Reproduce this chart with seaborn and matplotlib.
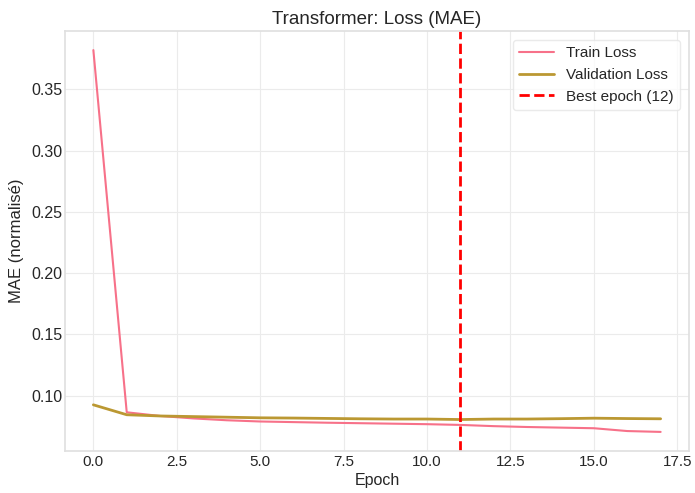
import numpy as np
import pandas as pd
import matplotlib
matplotlib.use("Agg")
import matplotlib.pyplot as plt
import seaborn as sns

epochs = list(range(18))
train_loss = [0.382, 0.0865, 0.0835, 0.0815, 0.0800, 0.0790, 0.0785, 0.0780, 0.0776, 0.0772,
              0.0768, 0.0762, 0.0752, 0.0745, 0.0740, 0.0735, 0.0712, 0.0705]
val_loss = [0.0926, 0.0845, 0.0835, 0.0830, 0.0825, 0.0820, 0.0818, 0.0815, 0.0812, 0.0810,
            0.0810, 0.0806, 0.0810, 0.0810, 0.0813, 0.0817, 0.0814, 0.0812]
best_epoch_idx = 11
best_label = "Best epoch (12)"

sns.set_theme(style="whitegrid")
plt.rcParams['font.family'] = ['Liberation Sans', 'DejaVu Sans']

df = pd.DataFrame({"Epoch": epochs, "Train Loss": train_loss, "Validation Loss": val_loss})
pal = sns.color_palette("husl", 6)

fig = plt.figure(figsize=(6.95, 4.93), dpi=100)
ax = fig.add_axes([65 / 695, 1 - 451 / 493, 624 / 695, 420 / 493])
sns.lineplot(data=df, x="Epoch", y="Train Loss", ax=ax, color=pal[0], linewidth=1.5, label="Train Loss")
sns.lineplot(data=df, x="Epoch", y="Validation Loss", ax=ax, color=pal[1], linewidth=2, label="Validation Loss")
ax.axvline(best_epoch_idx, color="red", linestyle="--", linewidth=2, label=best_label)

ax.set_title("Transformer: Loss (MAE)", fontsize=13.5, pad=5)
ax.set_xlabel("Epoch", fontsize=11.5, labelpad=3)
ax.set_ylabel("MAE (normalisé)", fontsize=12, labelpad=5)
ax.tick_params(axis="x", labelsize=11, pad=3, length=0)
ax.tick_params(axis="y", labelsize=11.5, pad=2, length=0)
ax.grid(True, color="#ebebeb", linewidth=0.8)
for s in ax.spines.values():
    s.set_color("#e0e0e0")
ax.legend(loc="upper right", fontsize=11, frameon=True, edgecolor="#e5e5e5",
          borderaxespad=0.6, handlelength=2.3)

fig.savefig("out.png", dpi=100)
